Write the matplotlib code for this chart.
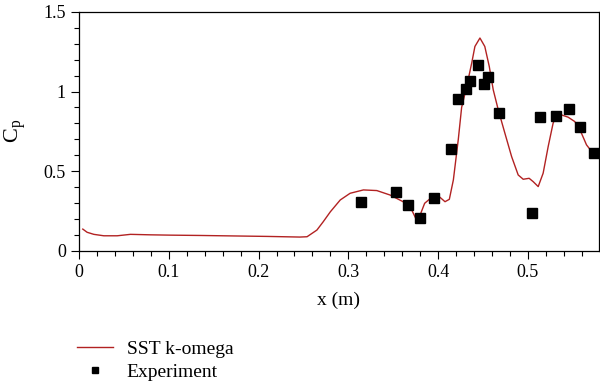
import numpy as np
import matplotlib.pyplot as plt
from matplotlib.ticker import MultipleLocator

plt.rcParams['font.family'] = ['Liberation Serif', 'DejaVu Serif']

# SST k-omega curve
sim_x = [0.0042, 0.009, 0.0165, 0.0276, 0.0425, 0.0573, 0.0795, 0.102, 0.135, 0.172, 0.21,
         0.246, 0.254, 0.265, 0.272, 0.280, 0.291, 0.302, 0.3168, 0.3317, 0.3465, 0.361,
         0.3706, 0.376, 0.380, 0.385, 0.393, 0.402, 0.4077, 0.4125, 0.417, 0.4225,
         0.4262, 0.4318, 0.4374, 0.441, 0.4466, 0.452, 0.457, 0.4614, 0.467, 0.4744,
         0.4819, 0.4892, 0.4948, 0.5014, 0.5059, 0.5115, 0.517, 0.5226, 0.5281, 0.532,
         0.5375, 0.5448, 0.5523, 0.5597, 0.5653, 0.5697, 0.5764, 0.579]
sim_cp = [0.136, 0.116, 0.103, 0.094, 0.094, 0.103, 0.100, 0.098, 0.096, 0.093, 0.090,
          0.086, 0.088, 0.130, 0.182, 0.245, 0.319, 0.361, 0.382, 0.378, 0.350, 0.308,
          0.256, 0.193, 0.225, 0.298, 0.336, 0.336, 0.308, 0.323, 0.445, 0.700,
          0.900, 1.031, 1.178, 1.283, 1.336, 1.283, 1.157, 1.011, 0.885, 0.738,
          0.591, 0.476, 0.449, 0.455, 0.434, 0.403, 0.487, 0.654, 0.801, 0.853,
          0.853, 0.839, 0.811, 0.738, 0.665, 0.633, 0.623, 0.615]

# experiment points
exp_x = [0.314, 0.353, 0.367, 0.380, 0.395, 0.4147, 0.4218, 0.4307, 0.4358, 0.4447,
         0.4514, 0.4558, 0.468, 0.505, 0.5133, 0.531, 0.5453, 0.5586, 0.5738]
exp_cp = [0.308, 0.371, 0.287, 0.208, 0.333, 0.642, 0.950, 1.015, 1.063, 1.168,
          1.048, 1.094, 0.862, 0.235, 0.843, 0.849, 0.891, 0.780, 0.614]

fig = plt.figure(figsize=(6, 3.84), dpi=100)
ax = fig.add_axes([0.1317, 0.347, 0.8663, 0.622])

ax.plot(sim_x, sim_cp, color='#b22222', lw=1.0, label='SST k-omega')
ax.plot(exp_x, exp_cp, 's', color='black', ms=7.5, label='Experiment')

ax.set_xlim(0, 0.579)
ax.set_ylim(0, 1.5)
ax.set_xticks([0, 0.1, 0.2, 0.3, 0.4, 0.5])
ax.set_xticklabels(['0', '0.1', '0.2', '0.3', '0.4', '0.5'])
ax.set_yticks([0, 0.5, 1, 1.5])
ax.set_yticklabels(['0', '0.5', '1', '1.5'])
ax.xaxis.set_minor_locator(MultipleLocator(0.02))
ax.yaxis.set_minor_locator(MultipleLocator(0.1))
ax.tick_params(which='major', direction='out', length=6, width=0.8, labelsize=13)
ax.tick_params(which='minor', direction='out', length=3.5, width=0.8)
for s in ax.spines.values():
    s.set_linewidth(0.9)

ax.set_xlabel('x (m)', fontsize=14, labelpad=8)
ax.set_ylabel('C$_\\mathregular{p}$', fontsize=16, labelpad=10)

leg = fig.legend(loc='upper left', bbox_to_anchor=(0.112, 0.14), frameon=False,
                 fontsize=14, handlelength=1.85, handletextpad=0.7, labelspacing=0.3,
                 borderpad=0, markerscale=0.6)

fig.savefig('out.png', dpi=100)
